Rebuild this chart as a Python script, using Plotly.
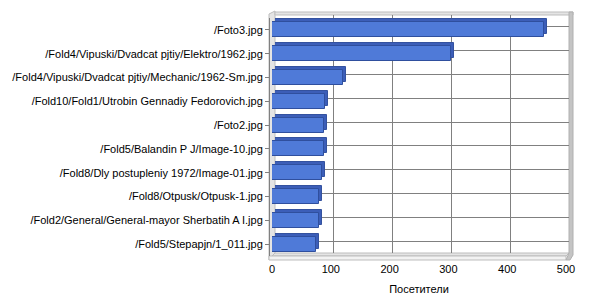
import plotly.graph_objects as go

# Top images by number of visitors
files = [
    "/Foto3.jpg",
    "/Fold4/Vipuski/Dvadcat pjtiy/Elektro/1962.jpg",
    "/Fold4/Vipuski/Dvadcat pjtiy/Mechanic/1962-Sm.jpg",
    "/Fold10/Fold1/Utrobin Gennadiy Fedorovich.jpg",
    "/Foto2.jpg",
    "/Fold5/Balandin P J/Image-10.jpg",
    "/Fold8/Dly postupleniy 1972/Image-01.jpg",
    "/Fold8/Otpusk/Otpusk-1.jpg",
    "/Fold2/General/General-mayor Sherbatih A I.jpg",
    "/Fold5/Stepapjn/1_011.jpg",
]
visitors = [463, 304, 121, 90, 88, 88, 85, 80, 80, 75]
x_ticks = [0, 100, 200, 300, 400, 500]
x_title = "Посетители"

# Page geometry (pixels) of the front plane and the depth of the 3-D box
W, H = 600, 300
FL, FR, FT, FB = 272, 566, 18, 256
D = 3

FACE = "#4f7ad8"
DEPTH = "#3c5eb8"
EDGE = "#2f4f9e"
GRID = "#808080"
WALL = "#e4e4e4"
WALL_EDGE = "#bdbdbd"
FONT = dict(family="Liberation Sans, Arial, sans-serif", size=11, color="#000000")


def px(x):
    return x / W


def py(y):
    return 1 - y / H


n = len(files)
cat_range = [n - 0.5, -0.5]

fig = go.Figure()

# Depth of each bar: the same bars drawn on the back plane, shifted up-right
fig.add_trace(go.Bar(
    x=visitors, y=files, orientation="h", xaxis="x", yaxis="y",
    width=0.63, marker=dict(color=DEPTH, line=dict(color="#34529f", width=1)),
    hoverinfo="skip", showlegend=False,
))
# Front faces of the bars
fig.add_trace(go.Bar(
    x=visitors, y=files, orientation="h", xaxis="x2", yaxis="y2",
    width=0.63, marker=dict(color=FACE, line=dict(color=EDGE, width=1)),
    showlegend=False, hovertemplate="%{y}: %{x}<extra></extra>",
))


def poly(points, fill, line=WALL_EDGE):
    path = "M " + " L ".join(f"{px(x)},{py(y)}" for x, y in points) + " Z"
    return dict(type="path", xref="paper", yref="paper", path=path,
                fillcolor=fill, line=dict(color=line, width=1), layer="below")


shapes = [
    # left wall
    poly([(FL - 3, FB + 4), (FL - 3, FT - 4), (FL + D, FT - D - 4), (FL + D, FB - D)], WALL),
    # floor: top face and front edge
    poly([(FL, FB), (FR, FB), (FR + D, FB - D), (FL + D, FB - D)], WALL),
    poly([(FL - 3, FB), (FR, FB), (FR, FB + 4), (FL - 3, FB + 4)], "#f2f2f2"),
    # top edge of the back wall
    poly([(FL + D, FT - D), (FR + D + 4, FT - D), (FR + D + 4, FT - D - 3), (FL + D, FT - D - 3)], WALL),
    # right wall
    poly([(FR + D, FT - D - 3), (FR + D + 4, FT - D - 3), (FR + D + 4, FB - D + 2), (FR + 4, FB + 4), (FR, FB + 4), (FR + D, FB - D)], "#c4c4c4", "#b0b0b0"),
]

fig.update_layout(
    template="none",
    width=W, height=H,
    margin=dict(l=0, r=0, t=0, b=0, pad=0),
    paper_bgcolor="#ffffff",
    plot_bgcolor="rgba(0,0,0,0)",
    font=FONT,
    bargap=0,
    shapes=shapes,
    # back plane: grid lines only
    xaxis=dict(
        domain=[px(FL + D), px(FR + D)], range=[0, 500], tickvals=x_ticks,
        showgrid=True, gridcolor=GRID, gridwidth=1, zeroline=False,
        showticklabels=False, ticks="", showline=False, anchor="y",
        automargin=False,
    ),
    yaxis=dict(
        domain=[py(FB - D), py(FT - D)], type="category",
        categoryorder="array", categoryarray=files, range=cat_range,
        showgrid=True, gridcolor=GRID, gridwidth=1, zeroline=False,
        showticklabels=False, ticks="", showline=False, anchor="x",
        automargin=False,
    ),
    # front plane: labels, ticks and the bars' faces
    xaxis2=dict(
        domain=[px(FL), px(FR)], range=[0, 500], tickvals=x_ticks,
        showgrid=False, zeroline=False, showline=False,
        ticks="", anchor="free", position=py(FB + 5),
        tickfont=FONT, title=dict(text=x_title, font=FONT, standoff=11),
        automargin=False,
    ),
    yaxis2=dict(
        domain=[py(FB), py(FT)], type="category",
        categoryorder="array", categoryarray=files, range=cat_range,
        showgrid=False, zeroline=False,
        showline=True, linecolor=GRID, linewidth=1,
        ticks="outside", ticklen=4, tickcolor=GRID,
        anchor="free", position=px(FL - 3), tickfont=FONT,
        automargin=False,
    ),
)

fig.write_html("out.html")
